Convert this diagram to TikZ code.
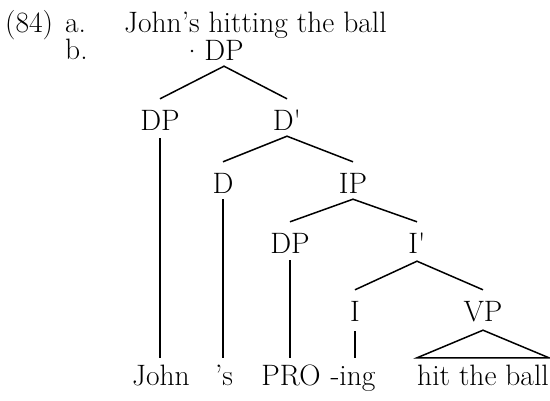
\documentclass[tikz,border=0pt]{standalone}
\usepackage{fontspec}
\begin{document}
\begin{tikzpicture}[x=1pt,y=-1pt,
  lbl/.style={font=\fontsize{29.5}{34}\selectfont, inner sep=0pt, anchor=base, text height=20pt, text depth=0pt},
  edge/.style={line width=1.5pt}]
\useasboundingbox (0,0) rectangle (550,400);
% example lines
\node[lbl, anchor=base west] (ex) at (5,32) {(84)};
\node[lbl, anchor=base west] (a) at (65,32) {a.};
\node[lbl, anchor=base west] (sent) at (124,32) {John’s hitting the ball};
\node[lbl, anchor=base west] (b) at (65,59) {b.};
% tree labels
\node[lbl] (dp0) at (224,60) {DP};
\fill (192,51) circle (1.3pt);
\node[lbl] (dp1) at (160,130) {DP};
\node[lbl] (dbar) at (287,130) {D\textquotesingle};
\node[lbl] (d) at (223,193) {D};
\node[lbl] (ip) at (353,193) {IP};
\node[lbl] (dp2) at (290,253) {DP};
\node[lbl] (ibar) at (417,253) {I\textquotesingle};
\node[lbl] (i) at (355,321) {I};
\node[lbl] (vp) at (483,321) {VP};
% leaves
\node[lbl] (john) at (161,385) {John};
\node[lbl] (s) at (224,385) {’s};
\node[lbl] (pro) at (291,385) {PRO};
\node[lbl] (ing) at (353,385) {-ing};
\node[lbl] (hit) at (483,385) {hit the ball};
% branches
\draw[edge] ([yshift=11pt]dp1.north) -- ([yshift=-6pt]dp0.south) -- ([yshift=11pt]dbar.north);
\draw[edge] ([yshift=11pt]d.north) -- ([yshift=-6pt]dbar.south) -- ([yshift=11pt]ip.north);
\draw[edge] ([yshift=11pt]dp2.north) -- ([yshift=-6pt]ip.south) -- ([yshift=11pt]ibar.north);
\draw[edge] ([yshift=11pt]i.north) -- ([yshift=-8pt]ibar.south) -- ([yshift=11pt]vp.north);
% unary lines
\draw[edge] ([yshift=-8pt]dp1.south) -- ([yshift=7pt]john.north -| dp1.south);
\draw[edge] ([yshift=-6pt]d.south) -- ([yshift=7pt]s.north -| d.south);
\draw[edge] ([yshift=-7pt]dp2.south) -- ([yshift=7pt]pro.north -| dp2.south);
\draw[edge] ([yshift=-10pt]i.south) -- ([yshift=7pt]ing.north -| i.south);
% triangle
\draw[edge] ([yshift=7pt]hit.north west) -- ([yshift=-9pt]vp.south) -- ([yshift=7pt]hit.north east) -- cycle;
\end{tikzpicture}
\end{document}
